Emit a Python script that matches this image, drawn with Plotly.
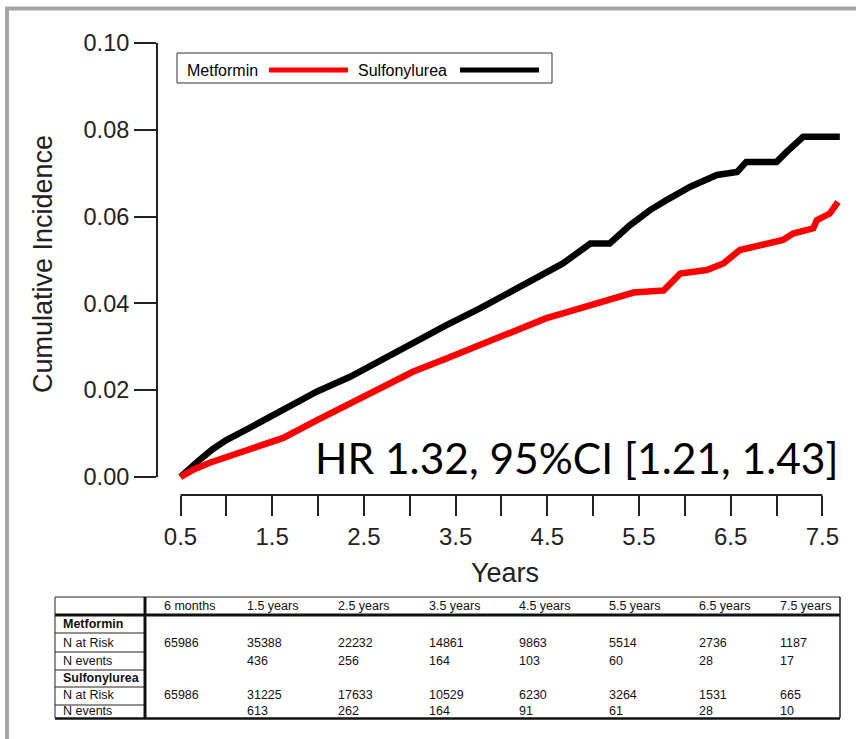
import plotly.graph_objects as go

# ---------------- data ----------------
years_sulf = [0.5, 0.6, 0.71, 0.85, 1.0, 1.26, 1.62, 1.99, 2.35, 2.71, 3.04, 3.40, 3.77, 4.13, 4.49,
              4.67, 4.97, 5.18, 5.40, 5.62, 5.80, 6.06, 6.35, 6.57, 6.67, 7.0, 7.11, 7.29, 7.69]
inc_sulf = [0.0, 0.0021, 0.0040, 0.0064, 0.0085, 0.0114, 0.0154, 0.0197, 0.0231, 0.0272, 0.0312,
            0.0350, 0.0389, 0.0431, 0.0473, 0.0492, 0.0538, 0.0538, 0.0580, 0.0615, 0.0638, 0.0669,
            0.0696, 0.0703, 0.0726, 0.0726, 0.0749, 0.0784, 0.0784]

years_met = [0.5, 0.65, 0.82, 1.0, 1.26, 1.62, 1.99, 2.35, 2.71, 3.04, 3.40, 3.77, 4.13, 4.49, 4.67,
             4.93, 5.22, 5.44, 5.77, 5.95, 6.24, 6.42, 6.60, 6.82, 7.07, 7.18, 7.40, 7.44, 7.58, 7.67]
inc_met = [0.0, 0.0018, 0.0033, 0.0046, 0.0062, 0.0090, 0.0131, 0.0170, 0.0208, 0.0243, 0.0273,
           0.0304, 0.0335, 0.0366, 0.0377, 0.0392, 0.0410, 0.0425, 0.0430, 0.0469, 0.0477, 0.0492,
           0.0523, 0.0534, 0.0546, 0.0561, 0.0573, 0.0592, 0.0607, 0.0634]

y_tickvals = [0.0, 0.02, 0.04, 0.06, 0.08, 0.10]
y_ticktext = ["0.00", "0.02", "0.04", "0.06", "0.08", "0.10"]
x_tickvals = [0.5, 1.0, 1.5, 2.0, 2.5, 3.0, 3.5, 4.0, 4.5, 5.0, 5.5, 6.0, 6.5, 7.0, 7.5]
x_ticktext = ["0.5", "", "1.5", "", "2.5", "", "3.5", "", "4.5", "", "5.5", "", "6.5", "", "7.5"]

hr_text = "HR 1.32, 95%CI [1.21, 1.43]"

table_header = ["6 months", "1.5 years", "2.5 years", "3.5 years", "4.5 years",
                "5.5 years", "6.5 years", "7.5 years"]
row_labels = ["Metformin", "N at Risk", "N events", "Sulfonylurea", "N at Risk", "N events"]
met_at_risk = [65986, 35388, 22232, 14861, 9863, 5514, 2736, 1187]
met_events = [None, 436, 256, 164, 103, 60, 28, 17]
sulf_at_risk = [65986, 31225, 17633, 10529, 6230, 3264, 1531, 665]
sulf_events = [None, 613, 262, 164, 91, 61, 28, 10]

# ---------------- layout helpers (pixel -> paper) ----------------
W, H = 856, 739
ML, MR, MT, MB = 157, 11, 43, 244
PW, PH = W - ML - MR, H - MT - MB


def xp(px):
    return (px - ML) / PW


def yp(py):
    return (H - MB - py) / PH


FONT = "Liberation Sans, Arial, sans-serif"
INK = "#222222"

fig = go.Figure()
fig.add_trace(go.Scatter(x=years_sulf, y=inc_sulf, mode="lines", name="Sulfonylurea",
                         line=dict(color="black", width=6.5), showlegend=False))
fig.add_trace(go.Scatter(x=years_met, y=inc_met, mode="lines", name="Metformin",
                         line=dict(color="#ff0000", width=6.5), showlegend=False))

shapes = []
annotations = []

# axis lines (R-style detached axes)
shapes.append(dict(type="line", xref="paper", yref="y", x0=0, x1=0, y0=0.0, y1=0.10,
                   line=dict(color=INK, width=2)))
shapes.append(dict(type="line", xref="x", yref="paper", x0=0.5, x1=7.5, y0=0, y1=0,
                   line=dict(color=INK, width=2)))

# slide frame
shapes.append(dict(type="line", xref="paper", yref="paper", x0=xp(5), x1=xp(856),
                   y0=yp(8.5), y1=yp(8.5), line=dict(color="#a6a6a6", width=4)))
shapes.append(dict(type="line", xref="paper", yref="paper", x0=xp(7), x1=xp(7),
                   y0=yp(7), y1=yp(739), line=dict(color="#a6a6a6", width=4)))

# legend box
shapes.append(dict(type="rect", xref="paper", yref="paper", x0=xp(177), x1=xp(552),
                   y0=yp(83), y1=yp(53), line=dict(color="#333333", width=1),
                   fillcolor="white"))
shapes.append(dict(type="line", xref="paper", yref="paper", x0=xp(269), x1=xp(348),
                   y0=yp(70), y1=yp(70), line=dict(color="#ff0000", width=5)))
shapes.append(dict(type="line", xref="paper", yref="paper", x0=xp(460), x1=xp(539),
                   y0=yp(70), y1=yp(70), line=dict(color="black", width=5)))
annotations.append(dict(text="Metformin", xref="paper", yref="paper", x=xp(185), y=yp(70),
                        xanchor="left", yanchor="middle", showarrow=False,
                        font=dict(family=FONT, size=16, color="black")))
annotations.append(dict(text="Sulfonylurea", xref="paper", yref="paper", x=xp(356), y=yp(70),
                        xanchor="left", yanchor="middle", showarrow=False,
                        font=dict(family=FONT, size=16, color="black")))

# axis titles
annotations.append(dict(text="Cumulative Incidence", xref="paper", yref="paper",
                        x=xp(43), y=yp(264), textangle=-90, xanchor="center", yanchor="middle",
                        showarrow=False, font=dict(family=FONT, size=27, color=INK)))
annotations.append(dict(text="Years", xref="paper", yref="paper", x=xp(505), y=yp(573),
                        xanchor="center", yanchor="middle", showarrow=False,
                        font=dict(family=FONT, size=27, color=INK)))

# HR annotation
annotations.append(dict(text=hr_text, xref="paper", yref="paper", x=xp(841), y=yp(457),
                        xanchor="right", yanchor="middle", showarrow=False,
                        font=dict(family="Lato, Open Sans, sans-serif", size=42.5, color="black")))

# ---------------- risk table ----------------
T_LEFT, T_RIGHT, T_SPLIT = 55, 840, 145
col_x = [162, 245, 336, 427, 517, 607, 697, 778]
row_top = [597, 615, 633, 652, 670, 687, 705, 718]
row_text_y = [606, 624.5, 642.5, 661, 678, 695, 711]
TFONT = dict(family=FONT, size=12.5, color="#111111")

# lines
shapes.append(dict(type="line", xref="paper", yref="paper", x0=xp(T_LEFT), x1=xp(T_RIGHT),
                   y0=yp(597), y1=yp(597), line=dict(color="#222", width=1)))
shapes.append(dict(type="line", xref="paper", yref="paper", x0=xp(T_LEFT), x1=xp(T_RIGHT),
                   y0=yp(615), y1=yp(615), line=dict(color="#111", width=3)))
shapes.append(dict(type="line", xref="paper", yref="paper", x0=xp(T_LEFT), x1=xp(T_RIGHT),
                   y0=yp(718.5), y1=yp(718.5), line=dict(color="#111", width=2.5)))
for ry in row_top[2:-1]:
    shapes.append(dict(type="line", xref="paper", yref="paper", x0=xp(T_LEFT), x1=xp(T_SPLIT),
                       y0=yp(ry), y1=yp(ry), line=dict(color="#222", width=1)))
shapes.append(dict(type="line", xref="paper", yref="paper", x0=xp(T_LEFT), x1=xp(T_LEFT),
                   y0=yp(597), y1=yp(718), line=dict(color="#222", width=1)))
shapes.append(dict(type="line", xref="paper", yref="paper", x0=xp(T_SPLIT), x1=xp(T_SPLIT),
                   y0=yp(597), y1=yp(718), line=dict(color="#111", width=3)))
shapes.append(dict(type="line", xref="paper", yref="paper", x0=xp(T_RIGHT), x1=xp(T_RIGHT),
                   y0=yp(597), y1=yp(718), line=dict(color="#222", width=1.5)))


def cell(text, px, py, bold=False):
    t = "<b>%s</b>" % text if bold else text
    annotations.append(dict(text=t, xref="paper", yref="paper", x=xp(px), y=yp(py),
                            xanchor="left", yanchor="middle", showarrow=False, font=TFONT))


for cx, h in zip(col_x, table_header):
    cell(h, cx, row_text_y[0])
for i, lab in enumerate(row_labels):
    cell(lab, 61, row_text_y[i + 1], bold=(lab in ("Metformin", "Sulfonylurea")))
body_rows = [(met_at_risk, 2), (met_events, 3), (sulf_at_risk, 5), (sulf_events, 6)]
for values, r in body_rows:
    for cx, v in zip(col_x, values):
        if v is not None:
            cell(str(v), cx, row_text_y[r])

fig.update_layout(
    width=W, height=H,
    margin=dict(l=ML, r=MR, t=MT, b=MB, pad=0),
    paper_bgcolor="white", plot_bgcolor="white",
    showlegend=False,
    shapes=shapes, annotations=annotations,
    xaxis=dict(range=[0.5 - (180.5 - ML) / 91.7, 0.5 + (845 - 180.5) / 91.7],
               tickmode="array", tickvals=x_tickvals, ticktext=x_ticktext,
               ticks="outside", ticklen=20, tickwidth=2, tickcolor=INK,
               showline=False, showgrid=False, zeroline=False,
               tickfont=dict(family=FONT, size=24, color=INK)),
    yaxis=dict(range=[-(495 - 477) / 4341.0, 0.10],
               tickmode="array", tickvals=y_tickvals, ticktext=y_ticktext,
               ticks="outside", ticklen=22, tickwidth=2, tickcolor=INK,
               showline=False, showgrid=False, zeroline=False,
               tickfont=dict(family=FONT, size=23.5, color=INK)),
)

fig.write_html("out.html")
